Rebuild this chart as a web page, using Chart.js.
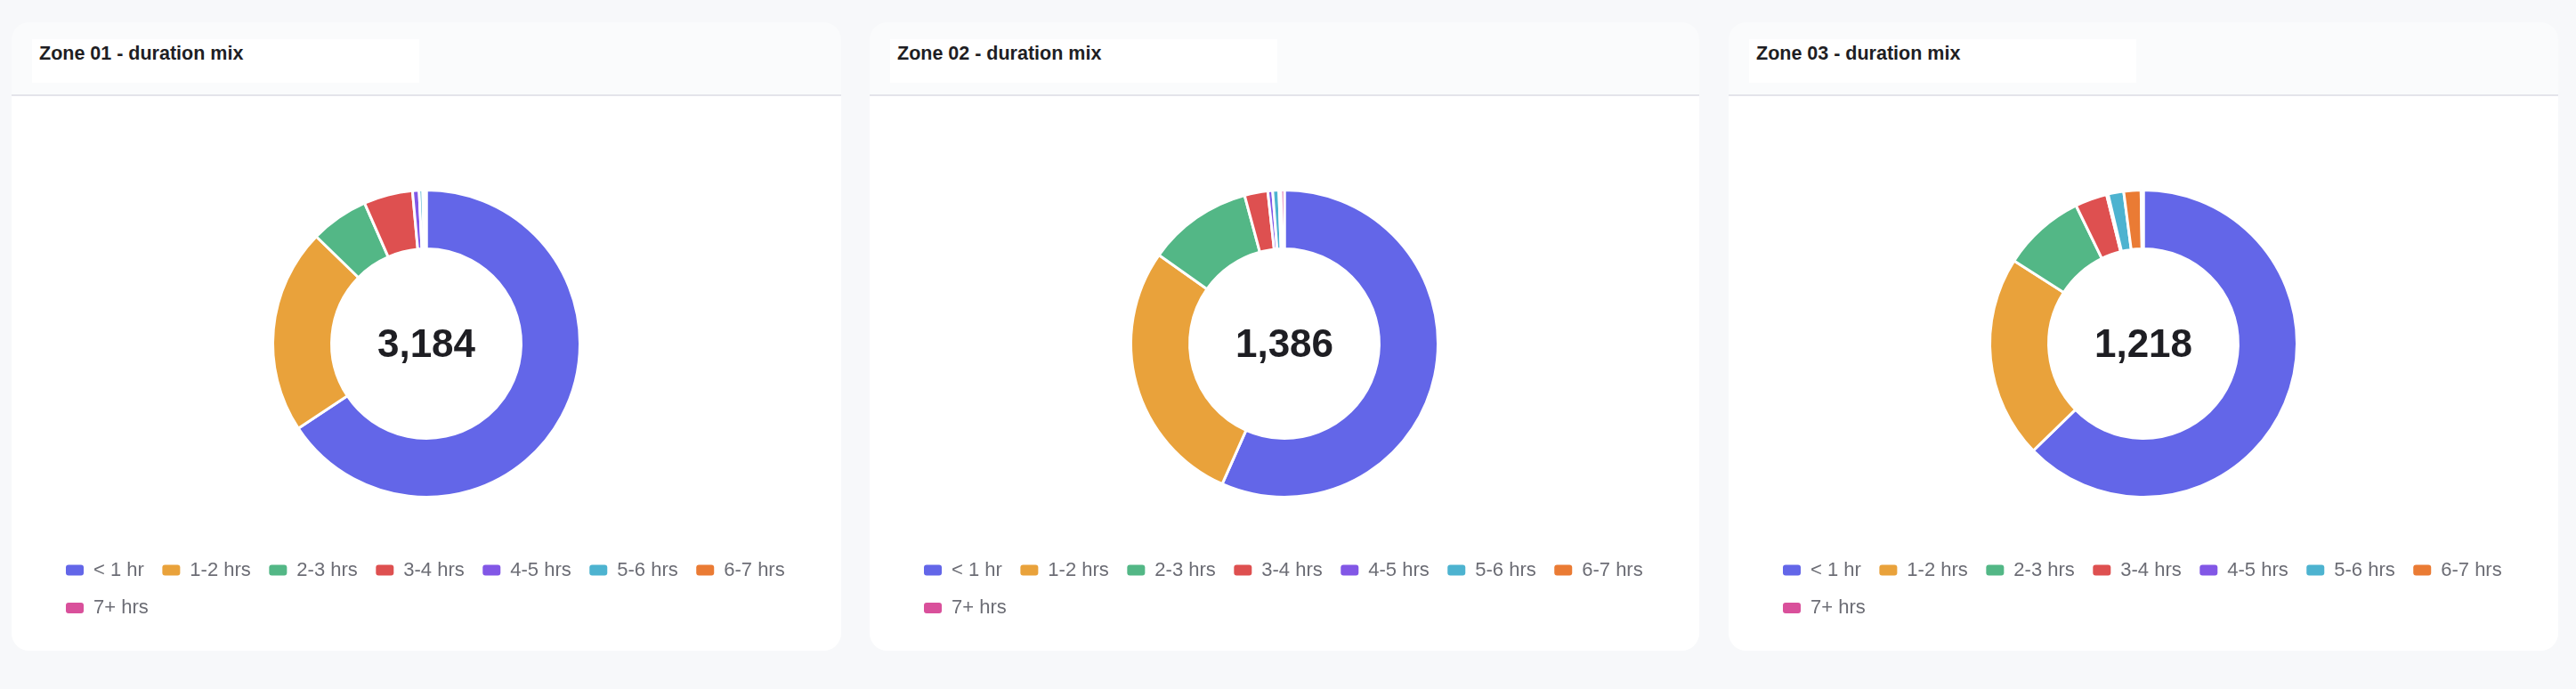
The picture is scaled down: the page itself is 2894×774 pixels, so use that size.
<!DOCTYPE html>
<html>
<head>
<meta charset="utf-8">
<script src="https://cdn.jsdelivr.net/npm/chart.js@4.4.1/dist/chart.umd.min.js"></script>
<style>
  html, body { margin: 0; padding: 0; background: #f7f8fa; width: 2894px; height: 774px; overflow: hidden; }
  body { position: relative; font-family: 'Liberation Sans', Arial, sans-serif; }
  .card { position: absolute; top: 25px; width: 932px; height: 706px; border-radius: 20px; overflow: hidden; background: #fafbfc; }
  .head { position: absolute; left: 0; top: 0; width: 932px; height: 81px; border-bottom: 2px solid #e4e4ea; }
  .tbox { position: absolute; left: 23px; top: 19px; width: 435px; height: 49px; background: #ffffff; }
  .title { position: absolute; left: 8px; top: 5px; font-size: 21.5px; line-height: 22px; font-weight: bold; color: #1e1e23; white-space: nowrap; }
  .body { position: absolute; left: 0; top: 83px; width: 932px; height: 623px; background: #ffffff; }
  canvas { display: block; }
</style>
</head>
<body>
<script>
const categories = ['< 1 hr', '1-2 hrs', '2-3 hrs', '3-4 hrs', '4-5 hrs', '5-6 hrs', '6-7 hrs', '7+ hrs'];
const zoneTitles = ['Zone 01 - duration mix', 'Zone 02 - duration mix', 'Zone 03 - duration mix'];
const zone01 = [2092, 687, 195, 164, 22, 12, 7, 5];
const zone02 = [785, 390, 153, 34, 7, 9, 3, 5];
const zone03 = [764, 260, 106, 41, 2, 20, 22, 3];
const colors = ['#6366e8', '#e9a23b', '#53b786', '#de5050', '#8257e6', '#4db3d0', '#ea7b34', '#d9509b'];

const zones = [zone01, zone02, zone03];
const cardLefts = [13, 977, 1942];

const centerTotal = {
  id: 'centerTotal',
  afterDatasetsDraw(chart) {
    const arc = chart.getDatasetMeta(0).data[0];
    if (!arc) return;
    const total = chart.data.datasets[0].data.reduce((a, b) => a + b, 0);
    const ctx = chart.ctx;
    ctx.save();
    ctx.font = "bold 44px 'Liberation Sans', Arial, sans-serif";
    ctx.fillStyle = '#1e1e23';
    ctx.textAlign = 'center';
    ctx.textBaseline = 'alphabetic';
    ctx.fillText(total.toLocaleString('en-US'), arc.x, arc.y + 15);
    ctx.restore();
  }
};

Chart.defaults.font.family = "'Liberation Sans', Arial, sans-serif";

zones.forEach((values, i) => {
  const card = document.createElement('div');
  card.className = 'card';
  card.style.left = cardLefts[i] + 'px';
  card.innerHTML = '<div class="head"><div class="tbox"><div class="title"></div></div></div><div class="body"><canvas width="932" height="623"></canvas></div>';
  card.querySelector('.title').textContent = zoneTitles[i];
  document.body.appendChild(card);
  const canvas = card.querySelector('canvas');
  new Chart(canvas, {
    type: 'doughnut',
    data: {
      labels: categories,
      datasets: [{
        data: values,
        backgroundColor: colors,
        borderColor: '#ffffff',
        borderWidth: 3,
        hoverOffset: 0
      }]
    },
    options: {
      responsive: false,
      animation: false,
      radius: 172.5,
      cutout: '61.7%',
      layout: { padding: { top: 55, bottom: 27, left: 40.5, right: 40.5 } },
      plugins: {
        tooltip: { enabled: false },
        legend: {
          position: 'bottom',
          align: 'start',
          labels: {
            boxWidth: 20,
            boxHeight: 12,
            padding: 20.5,
            color: '#6c6d75',
            font: { size: 22 },
            useBorderRadius: true,
            borderRadius: 3,
            generateLabels(chart) {
              const items = Chart.overrides.doughnut.plugins.legend.labels.generateLabels(chart);
              return items.map(it => Object.assign(it, { lineWidth: 0, strokeStyle: 'rgba(0,0,0,0)', borderRadius: 3 }));
            }
          }
        }
      }
    },
    plugins: [centerTotal]
  });
});
</script>
</body>
</html>
